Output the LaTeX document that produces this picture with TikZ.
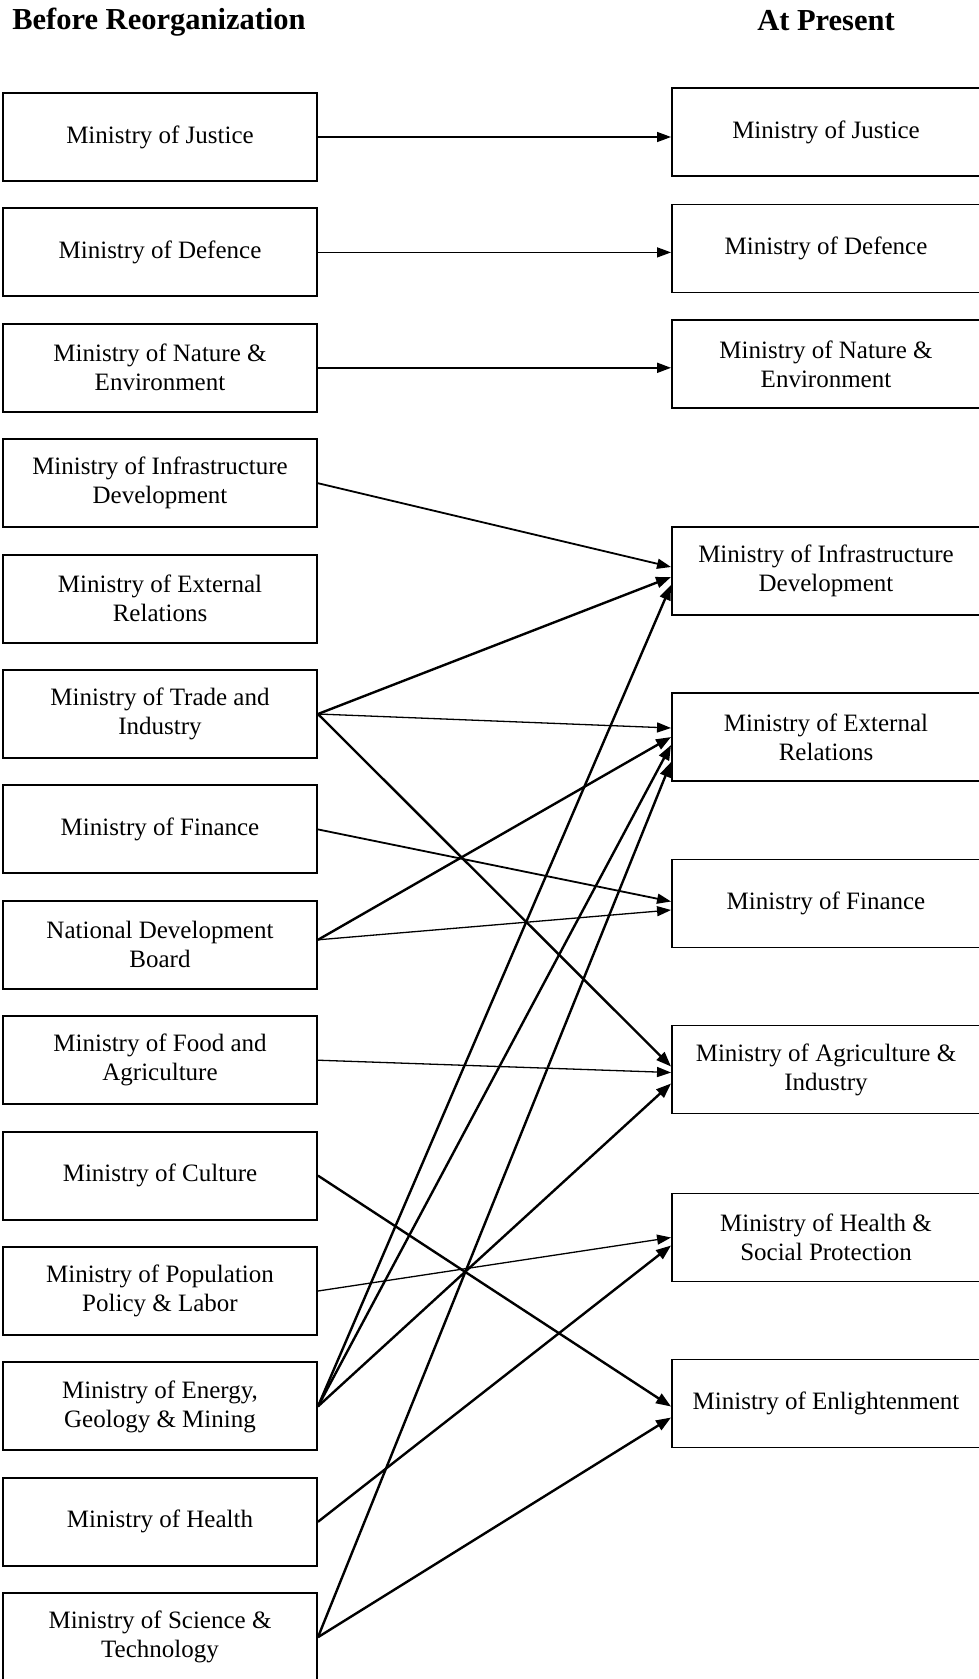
\documentclass[tikz,border=0pt]{standalone}
\usepackage{fontspec}
\setmainfont{Liberation Serif}
\usetikzlibrary{arrows.meta}
\begin{document}
\begin{tikzpicture}[x=1pt,y=-1pt,
  box/.style={draw, line width=1.9pt, minimum height=88pt, align=center, inner sep=0pt,
    font=\fontsize{25}{29}\selectfont},
  lbox/.style={box, minimum width=314pt},
  rbox/.style={box, minimum width=308pt},
  thinarr/.style={line width=1.3pt, -{Triangle[length=14pt,width=10pt]}},
  midarr/.style={line width=1.8pt, -{Triangle[length=14pt,width=10pt]}},
  thickarr/.style={line width=2.4pt, -{Triangle[length=15pt,width=11pt]}},
  head/.style={font=\bfseries\fontsize{30.5}{34}\selectfont, inner sep=0pt}
]
\useasboundingbox (0,0) rectangle (978,1679);
\fill[white] (0,0) rectangle (978,1679);

\node[head] (hl) at (159,22) {Before Reorganization};
\node[head] (hr) at (826,21) {At Present};

% left column
\node[lbox] (L1)  at (160,137)    {Ministry of Justice};
\node[lbox] (L2)  at (160,252.4)  {Ministry of Defence};
\node[lbox] (L3)  at (160,367.8)  {Ministry of Nature \&\\Environment};
\node[lbox] (L4)  at (160,483.2)  {Ministry of Infrastructure\\Development};
\node[lbox] (L5)  at (160,598.6)  {Ministry of External\\Relations};
\node[lbox] (L6)  at (160,714)    {Ministry of Trade and\\Industry};
\node[lbox] (L7)  at (160,829.4)  {Ministry of Finance};
\node[lbox] (L8)  at (160,944.8)  {National Development\\Board};
\node[lbox] (L9)  at (160,1060.2) {Ministry of Food and\\Agriculture};
\node[lbox] (L10) at (160,1175.6) {Ministry of Culture};
\node[lbox] (L11) at (160,1291)   {Ministry of Population\\Policy \& Labor};
\node[lbox] (L12) at (160,1406.4) {Ministry of Energy,\\Geology \& Mining};
\node[lbox] (L13) at (160,1521.8) {Ministry of Health};
\node[lbox] (L14) at (160,1637.2) {Ministry of Science \&\\Technology};

% right column
\node[rbox] (R1) at (826,132)    {Ministry of Justice};
\node[rbox] (R2) at (826,248.5)  {Ministry of Defence};
\node[rbox] (R3) at (826,364)    {Ministry of Nature \&\\Environment};
\node[rbox] (R4) at (826,571)    {Ministry of Infrastructure\\Development};
\node[rbox] (R5) at (826,737)    {Ministry of External\\Relations};
\node[rbox] (R6) at (826,903.5)  {Ministry of Finance};
\node[rbox] (R7) at (826,1069.5) {Ministry of Agriculture \&\\Industry};
\node[rbox] (R8) at (826,1237.5) {Ministry of Health \&\\Social Protection};
\node[rbox] (R9) at (826,1403.5) {Ministry of Enlightenment};

% connectors
\draw[thinarr] (L1.east) -- (L1.east -| R1.west);
\draw[thinarr] (L2.east) -- (L2.east -| R2.west);
\draw[midarr]  (L3.east) -- (L3.east -| R3.west);

\draw[midarr]   (L4.east) -- ([yshift=4pt]R4.west);
\draw[thickarr] (L6.east) -- ([yshift=-6pt]R4.west);
\draw[thinarr]  (L6.east) -- ([yshift=9pt]R5.west);
\draw[thickarr] (L6.east) -- ([yshift=3pt]R7.west);

\draw[midarr]   (L7.east) -- ([yshift=2pt]R6.west);
\draw[thickarr] ([yshift=5pt]L8.east) -- (R5.west);
\draw[thinarr]  ([yshift=5pt]L8.east) -- ([yshift=-6.5pt]R6.west);

\draw[thinarr]  (L9.east) -- ([yshift=-3pt]R7.west);
\draw[thickarr] (L10.east) -- ([yshift=-3pt]R9.west);
\draw[thinarr]  (L11.east) -- ([yshift=0pt]R8.west);

\draw[thickarr] (L12.east) -- ([yshift=-14pt]R4.west);
\draw[thickarr] (L12.east) -- ([yshift=-8pt]R5.west);
\draw[thickarr] (L12.east) -- ([yshift=-14pt]R7.west);

\draw[thickarr] (L13.east) -- ([yshift=-8pt]R8.west);

\draw[thickarr] (L14.east) -- ([yshift=-25pt]R5.west);
\draw[thickarr] (L14.east) -- ([yshift=-14pt]R9.west);
\end{tikzpicture}
\end{document}
